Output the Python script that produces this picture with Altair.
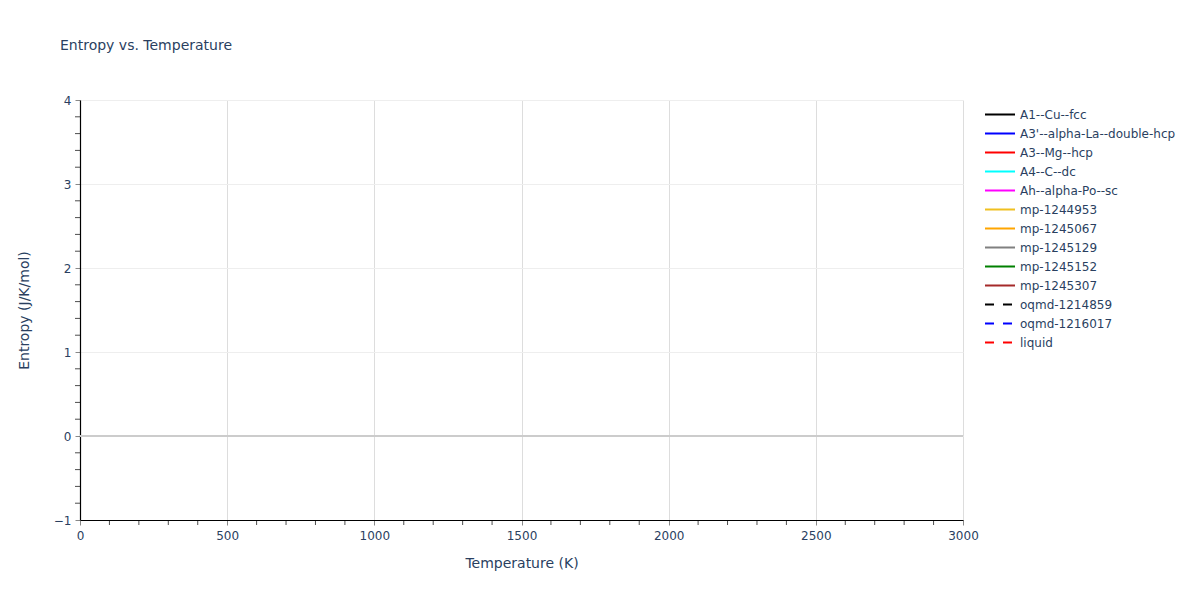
import altair as alt
import pandas as pd

series = ["A1--Cu--fcc", "A3'--alpha-La--double-hcp", "A3--Mg--hcp", "A4--C--dc",
          "Ah--alpha-Po--sc", "mp-1244953", "mp-1245067", "mp-1245129", "mp-1245152",
          "mp-1245307", "oqmd-1214859", "oqmd-1216017", "liquid"]
colors = ["black", "blue", "red", "cyan", "magenta", "#f0c020", "orange", "gray",
          "green", "brown", "black", "blue", "red"]
dashes = [[1, 0]] * 10 + [[9, 9]] * 3

# No data points are drawn in the reference (all traces empty)
temperature = []
entropy = []
names = []

df = pd.DataFrame({"Temperature": pd.Series(temperature, dtype=float),
                   "Entropy": pd.Series(entropy, dtype=float),
                   "Phase": pd.Series(names, dtype=str)})

font = "DejaVu Sans"
fc = "#2a3f5f"

lines = alt.Chart(df).mark_line(strokeWidth=2).encode(
    x=alt.X("Temperature:Q", scale=alt.Scale(domain=[0, 3000], nice=False),
            title="Temperature (K)",
            axis=alt.Axis(values=[0, 500, 1000, 1500, 2000, 2500, 3000], format="d",
                          gridColor="#dddddd", labelFlush=False,
                          domainColor="black", tickColor="#888", tickSize=5,
                          labelColor=fc, titleColor=fc, labelFontSize=12, titleFontSize=14,
                          titleFontWeight="normal", labelFont=font, titleFont=font,
                          titlePadding=15, labelPadding=5)),
    y=alt.Y("Entropy:Q", scale=alt.Scale(domain=[-1, 4], nice=False),
            title="Entropy (J/K/mol)",
            axis=alt.Axis(values=[-1, 0, 1, 2, 3, 4], format="d", gridColor="#eeeeee",
                          labelFlush=False,
                          domainColor="black", tickColor="#888", tickSize=5,
                          labelColor=fc, titleColor=fc, labelFontSize=12, titleFontSize=14,
                          titleFontWeight="normal", labelFont=font, titleFont=font,
                          titlePadding=22, labelPadding=4)),
    color=alt.Color("Phase:N", scale=alt.Scale(domain=series, range=colors), title=None,
                    sort=series),
    strokeDash=alt.StrokeDash("Phase:N", scale=alt.Scale(domain=series, range=dashes),
                              title=None, sort=series),
)

minor_x = alt.Chart(pd.DataFrame({"t": [v for v in range(100, 3000, 100) if v % 500]})).mark_tick(
    color="black", thickness=1, size=5, orient="vertical").encode(
    x=alt.X("t:Q", scale=alt.Scale(domain=[0, 3000], nice=False)),
    y=alt.value(422.5))

minor_y = alt.Chart(pd.DataFrame({"e": [round(-1 + 0.2 * i, 1) for i in range(26) if i % 5]})).mark_tick(
    color="black", thickness=1, size=5, orient="horizontal").encode(
    y=alt.Y("e:Q", scale=alt.Scale(domain=[-1, 4], nice=False)),
    x=alt.value(-2.5))

zero = alt.Chart(pd.DataFrame({"z": [0]})).mark_rule(color="#cccccc", strokeWidth=2).encode(
    y=alt.Y("z:Q", scale=alt.Scale(domain=[-1, 4], nice=False)))

chart = alt.layer(zero, lines, minor_x, minor_y).properties(
    width=883, height=420,
    title=alt.Title("Entropy vs. Temperature", anchor="start", frame="group", dx=-20,
                    offset=41, fontSize=14, fontWeight="normal", color=fc, font=font),
    padding={"left": 72, "top": 92, "right": 229, "bottom": 72},
    autosize=alt.AutoSizeParams(type="none"),
).configure_legend(
    orient="none", legendX=904, legendY=5, symbolType="stroke", symbolSize=900,
    symbolStrokeWidth=2, labelFontSize=12, labelColor=fc, labelFont=font, rowPadding=0,
    labelOffset=4, symbolLimit=0, clipHeight=19,
).configure_view(stroke=None).configure_axis(domainWidth=1.2)

chart.save("out.html", embed_options={"renderer": "svg", "actions": False})
